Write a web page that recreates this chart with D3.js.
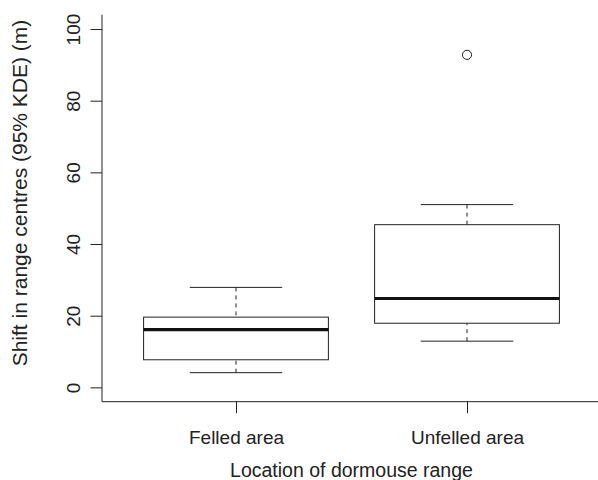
<!DOCTYPE html>
<html>
<head>
<meta charset="utf-8">
<script src="https://cdn.jsdelivr.net/npm/d3@7/dist/d3.min.js"></script>
<style>
  body { margin: 0; background: #fff; }
  svg text { font-family: "Liberation Sans", Arial, Helvetica, sans-serif; fill: #222; }
</style>
</head>
<body>
<svg id="chart" width="598" height="480"></svg>
<script>
// boxplot summaries (m)
const categories  = ['Felled area', 'Unfelled area'];
const whiskerLow  = [4.1, 12.9];
const lowerQuart  = [7.7, 17.9];
const medians     = [16.1, 24.8];
const upperQuart  = [19.6, 45.4];
const whiskerHigh = [27.9, 51.0];
const outliers    = [[], [92.8]];
const yTicks      = [0, 20, 40, 60, 80, 100];

const svg = d3.select('#chart');
const ink = '#222';

// R-style plot region: xlim 0.42..2.58, ylim -4..104
const x = d3.scaleLinear().domain([0.42, 2.58]).range([102, 601]);
const y = d3.scaleLinear().domain([-4, 104]).range([401.7, 14.7]);

const boxes = categories.map((c, i) => ({
  pos: i + 1, lo: whiskerLow[i], q1: lowerQuart[i], med: medians[i],
  q3: upperQuart[i], hi: whiskerHigh[i], out: outliers[i]
}));

const halfBox = 0.4, halfCap = 0.2;

const g = svg.append('g');
const b = g.selectAll('g.box').data(boxes).enter().append('g').attr('class', 'box');

// dashed whiskers (drawn from the cap toward the box)
b.append('line')
  .attr('x1', d => x(d.pos)).attr('x2', d => x(d.pos))
  .attr('y1', d => y(d.hi)).attr('y2', d => y(d.q3))
  .attr('stroke', ink).attr('stroke-dasharray', '4,4');
b.append('line')
  .attr('x1', d => x(d.pos)).attr('x2', d => x(d.pos))
  .attr('y1', d => y(d.lo)).attr('y2', d => y(d.q1))
  .attr('stroke', ink).attr('stroke-dasharray', '4,4');

// staples
b.selectAll('line.cap').data(d => [[d.pos, d.hi], [d.pos, d.lo]]).enter().append('line')
  .attr('class', 'cap')
  .attr('x1', d => x(d[0] - halfCap)).attr('x2', d => x(d[0] + halfCap))
  .attr('y1', d => y(d[1])).attr('y2', d => y(d[1]))
  .attr('stroke', ink);

// boxes
b.append('rect')
  .attr('x', d => x(d.pos - halfBox))
  .attr('width', d => x(d.pos + halfBox) - x(d.pos - halfBox))
  .attr('y', d => y(d.q3))
  .attr('height', d => y(d.q1) - y(d.q3))
  .attr('fill', 'none').attr('stroke', ink);

// medians
b.append('line')
  .attr('x1', d => x(d.pos - halfBox)).attr('x2', d => x(d.pos + halfBox))
  .attr('y1', d => y(d.med)).attr('y2', d => y(d.med))
  .attr('stroke', '#111').attr('stroke-width', 3.2);

// outliers
b.selectAll('circle').data(d => d.out.map(v => [d.pos, v])).enter().append('circle')
  .attr('cx', d => x(d[0])).attr('cy', d => y(d[1])).attr('r', 4.6)
  .attr('fill', 'none').attr('stroke', ink);

// L-shaped frame (bty = "l")
svg.append('path')
  .attr('d', `M${x(0.42)},${y(104)}V${y(-4)}H${x(2.58)}`)
  .attr('fill', 'none').attr('stroke', ink);

// y axis
const yAxis = svg.append('g').attr('transform', `translate(${x(0.42)},0)`)
  .call(d3.axisLeft(y).tickValues(yTicks).tickSize(11.5).tickFormat(d3.format('d')));
yAxis.select('.domain').remove();
yAxis.selectAll('line').attr('stroke', ink);
yAxis.selectAll('text')
  .attr('transform', 'rotate(-90)')
  .attr('x', 0).attr('y', -22).attr('dy', 0)
  .attr('text-anchor', 'middle')
  .style('font-size', '19px').attr('fill', ink);

// x axis
const xAxis = svg.append('g').attr('transform', `translate(0,${y(-4)})`)
  .call(d3.axisBottom(x).tickValues([1, 2]).tickSize(11.5).tickFormat(d => categories[d - 1]));
xAxis.select('.domain').remove();
xAxis.selectAll('line').attr('stroke', ink);
xAxis.selectAll('text')
  .attr('y', 42.5).attr('dy', 0)
  .style('font-size', '19px').attr('fill', ink);

// axis titles
svg.append('text')
  .attr('x', (x(0.42) + x(2.58)) / 2).attr('y', 477)
  .attr('text-anchor', 'middle').style('font-size', '19.5px')
  .text('Location of dormouse range');

svg.append('text')
  .attr('transform', 'translate(27,193) rotate(-90)')
  .attr('text-anchor', 'middle').style('font-size', '21px')
  .text('Shift in range centres (95% KDE) (m)');
</script>
</body>
</html>
